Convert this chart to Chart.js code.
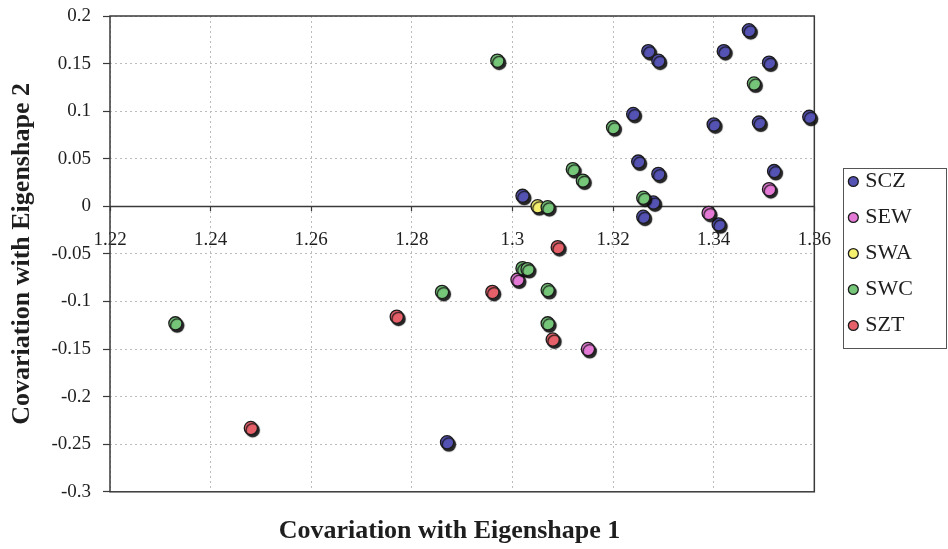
<!DOCTYPE html>
<html>
<head>
<meta charset="utf-8">
<script src="https://cdn.jsdelivr.net/npm/chart.js@4/dist/chart.umd.min.js"></script>
<style>
  html, body { margin: 0; padding: 0; background: #ffffff; }
  #wrap { width: 948px; height: 549px; }
</style>
</head>
<body>
<div id="wrap"><canvas id="c" width="948" height="549"></canvas></div>
<script>
// Series names and their [x, y] points (covariation with eigenshapes 1 and 2)
const SERIES = ['SCZ', 'SEW', 'SWA', 'SWC', 'SZT'];

const SCZ = [
  [1.347, 0.185], [1.342, 0.163], [1.351, 0.151], [1.327, 0.163], [1.329, 0.153],
  [1.324, 0.097], [1.340, 0.086], [1.349, 0.088], [1.359, 0.094], [1.325, 0.047],
  [1.329, 0.034], [1.352, 0.037], [1.302, 0.011], [1.328, 0.004], [1.326, -0.011],
  [1.341, -0.019], [1.287, -0.248]
];
const SEW = [[1.351, 0.018], [1.339, -0.007], [1.301, -0.077], [1.315, -0.150]];
const SWA = [[1.305, 0.000]];
const SWC = [
  [1.297, 0.153], [1.348, 0.129], [1.320, 0.083], [1.312, 0.039], [1.314, 0.027],
  [1.326, 0.009], [1.307, -0.001], [1.302, -0.065], [1.303, -0.066], [1.307, -0.088],
  [1.286, -0.090], [1.307, -0.123], [1.233, -0.123]
];
const SZT = [[1.309, -0.043], [1.296, -0.090], [1.277, -0.116], [1.308, -0.140], [1.248, -0.233]];

const X_TICKS = [1.22, 1.24, 1.26, 1.28, 1.30, 1.32, 1.34, 1.36];
const Y_TICKS = [0.2, 0.15, 0.1, 0.05, 0, -0.05, -0.1, -0.15, -0.2, -0.25, -0.3];

const X_TITLE = 'Covariation with Eigenshape 1';
const Y_TITLE = 'Covariation with Eigenshape 2';

const POINTS = { SCZ, SEW, SWA, SWC, SZT };
const FILLS = { SCZ: '#5452b2', SEW: '#e57ad6', SWA: '#f5f06e', SWC: '#76c67a', SZT: '#e6606a' };

const SERIF = '"Liberation Serif", "Times New Roman", serif';
Chart.defaults.font.family = SERIF;
Chart.defaults.color = '#1e1e1e';

const fmt = v => String(+Number(v).toFixed(2));
const AXIS_COLOR = '#3a3a3a';

// Box around the plot area plus the horizontal axis line through y = 0
const plotFrame = {
  id: 'plotFrame',
  beforeDatasetsDraw(chart) {
    const { ctx, chartArea: a, scales } = chart;
    ctx.save();
    ctx.strokeStyle = AXIS_COLOR;
    ctx.lineWidth = 1.5;
    ctx.setLineDash([]);
    ctx.strokeRect(a.left, a.top, a.right - a.left, a.bottom - a.top);
    const y0 = Math.round(scales.y.getPixelForValue(0)) + 0.5;
    ctx.beginPath();
    ctx.moveTo(a.left, y0);
    ctx.lineTo(a.right, y0);
    ctx.stroke();
    ctx.restore();
  }
};

// Drop shadow under the markers
const markerShadow = {
  id: 'markerShadow',
  beforeDatasetsDraw(chart) {
    const ctx = chart.ctx;
    ctx.save();
    ctx.shadowColor = 'rgba(15,15,15,0.9)';
    ctx.shadowOffsetX = 1.8;
    ctx.shadowOffsetY = 2.2;
    ctx.shadowBlur = 1;
  },
  afterDatasetsDraw(chart) {
    chart.ctx.restore();
  }
};

// Leave a gap between the plot area and the legend, and lift the legend a little
const legendGap = {
  id: 'legendGap',
  afterLayout(chart) {
    const lg = chart.legend;
    if (!lg) return;
    lg.left += 24; lg.right += 24;
    lg.top -= 29; lg.bottom -= 29;
  }
};

// Border around the legend
const legendFrame = {
  id: 'legendFrame',
  afterDraw(chart) {
    const lg = chart.legend;
    if (!lg || !lg.legendHitBoxes.length) return;
    const hb = lg.legendHitBoxes;
    const first = hb[0], last = hb[hb.length - 1];
    const ctx = chart.ctx;
    ctx.save();
    ctx.strokeStyle = '#555';
    ctx.lineWidth = 1;
    const left = first.left - 9, top = first.top - 3;
    const right = chart.width - 1.5, bottom = last.top + last.height + 11;
    ctx.strokeRect(Math.round(left) + 0.5, Math.round(top) + 0.5, Math.round(right - left), Math.round(bottom - top));
    ctx.restore();
  }
};

const datasets = SERIES.map((name, i) => ({
  label: name,
  data: POINTS[name].map(([x, y]) => ({ x, y })),
  backgroundColor: FILLS[name],
  borderColor: '#1c1c1c',
  borderWidth: 1,
  pointBackgroundColor: FILLS[name],
  pointBorderColor: '#1c1c1c',
  pointBorderWidth: 1.3,
  pointRadius: 6.6,
  pointHoverRadius: 6.6,
  showLine: false,
  clip: false,
  order: SERIES.length - i
}));

const gridStyle = len => ({
  color: '#bcbcbc',
  lineWidth: 1,
  drawTicks: true,
  tickLength: len,
  tickColor: AXIS_COLOR,
  tickWidth: 1.2,
  tickBorderDash: []
});

new Chart(document.getElementById('c'), {
  type: 'scatter',
  data: { datasets },
  plugins: [plotFrame, markerShadow, legendGap, legendFrame],
  options: {
    responsive: false,
    animation: false,
    events: [],
    layout: { padding: { top: 16, right: 49, bottom: 0, left: 0 } },
    plugins: {
      tooltip: { enabled: false },
      title: {
        display: true,
        position: 'bottom',
        text: X_TITLE,
        color: '#1e1e1e',
        font: { family: SERIF, size: 26, weight: 'bold' },
        padding: { top: 24, bottom: 2 }
      },
      legend: {
        position: 'right',
        align: 'center',
        labels: {
          usePointStyle: true,
          pointStyle: 'circle',
          boxWidth: 2,
          boxHeight: 7,
          padding: 14,
          color: '#1e1e1e',
          font: { family: SERIF, size: 22 },
          sort: (a, b) => a.datasetIndex - b.datasetIndex
        }
      }
    },
    scales: {
      x: {
        type: 'linear',
        position: { y: 0 },
        min: 1.22,
        max: 1.36,
        afterBuildTicks: s => { s.ticks = X_TICKS.map(v => ({ value: v })); },
        afterFit: s => { s.paddingTop = 0; s.paddingBottom = 0; },
        border: { display: false, dash: [2, 3] },
        grid: gridStyle(5),
        ticks: {
          autoSkip: false,
          maxRotation: 0,
          padding: 17,
          color: '#1e1e1e',
          font: { family: SERIF, size: 19 },
          callback: v => fmt(v)
        }
      },
      y: {
        type: 'linear',
        position: 'left',
        min: -0.3,
        max: 0.2,
        afterBuildTicks: s => { s.ticks = Y_TICKS.slice().reverse().map(v => ({ value: v })); },
        afterFit: s => { s.width = 110; s.paddingTop = 0; s.paddingBottom = 0; },
        border: { display: false, dash: [2, 3] },
        grid: gridStyle(7),
        ticks: {
          autoSkip: false,
          padding: 12,
          color: '#1e1e1e',
          font: { family: SERIF, size: 19 },
          callback: v => fmt(v)
        },
        title: {
          display: true,
          text: Y_TITLE,
          color: '#1e1e1e',
          font: { family: SERIF, size: 26, weight: 'bold' },
          padding: { top: 7, bottom: 0 }
        }
      }
    }
  }
});
</script>
</body>
</html>
